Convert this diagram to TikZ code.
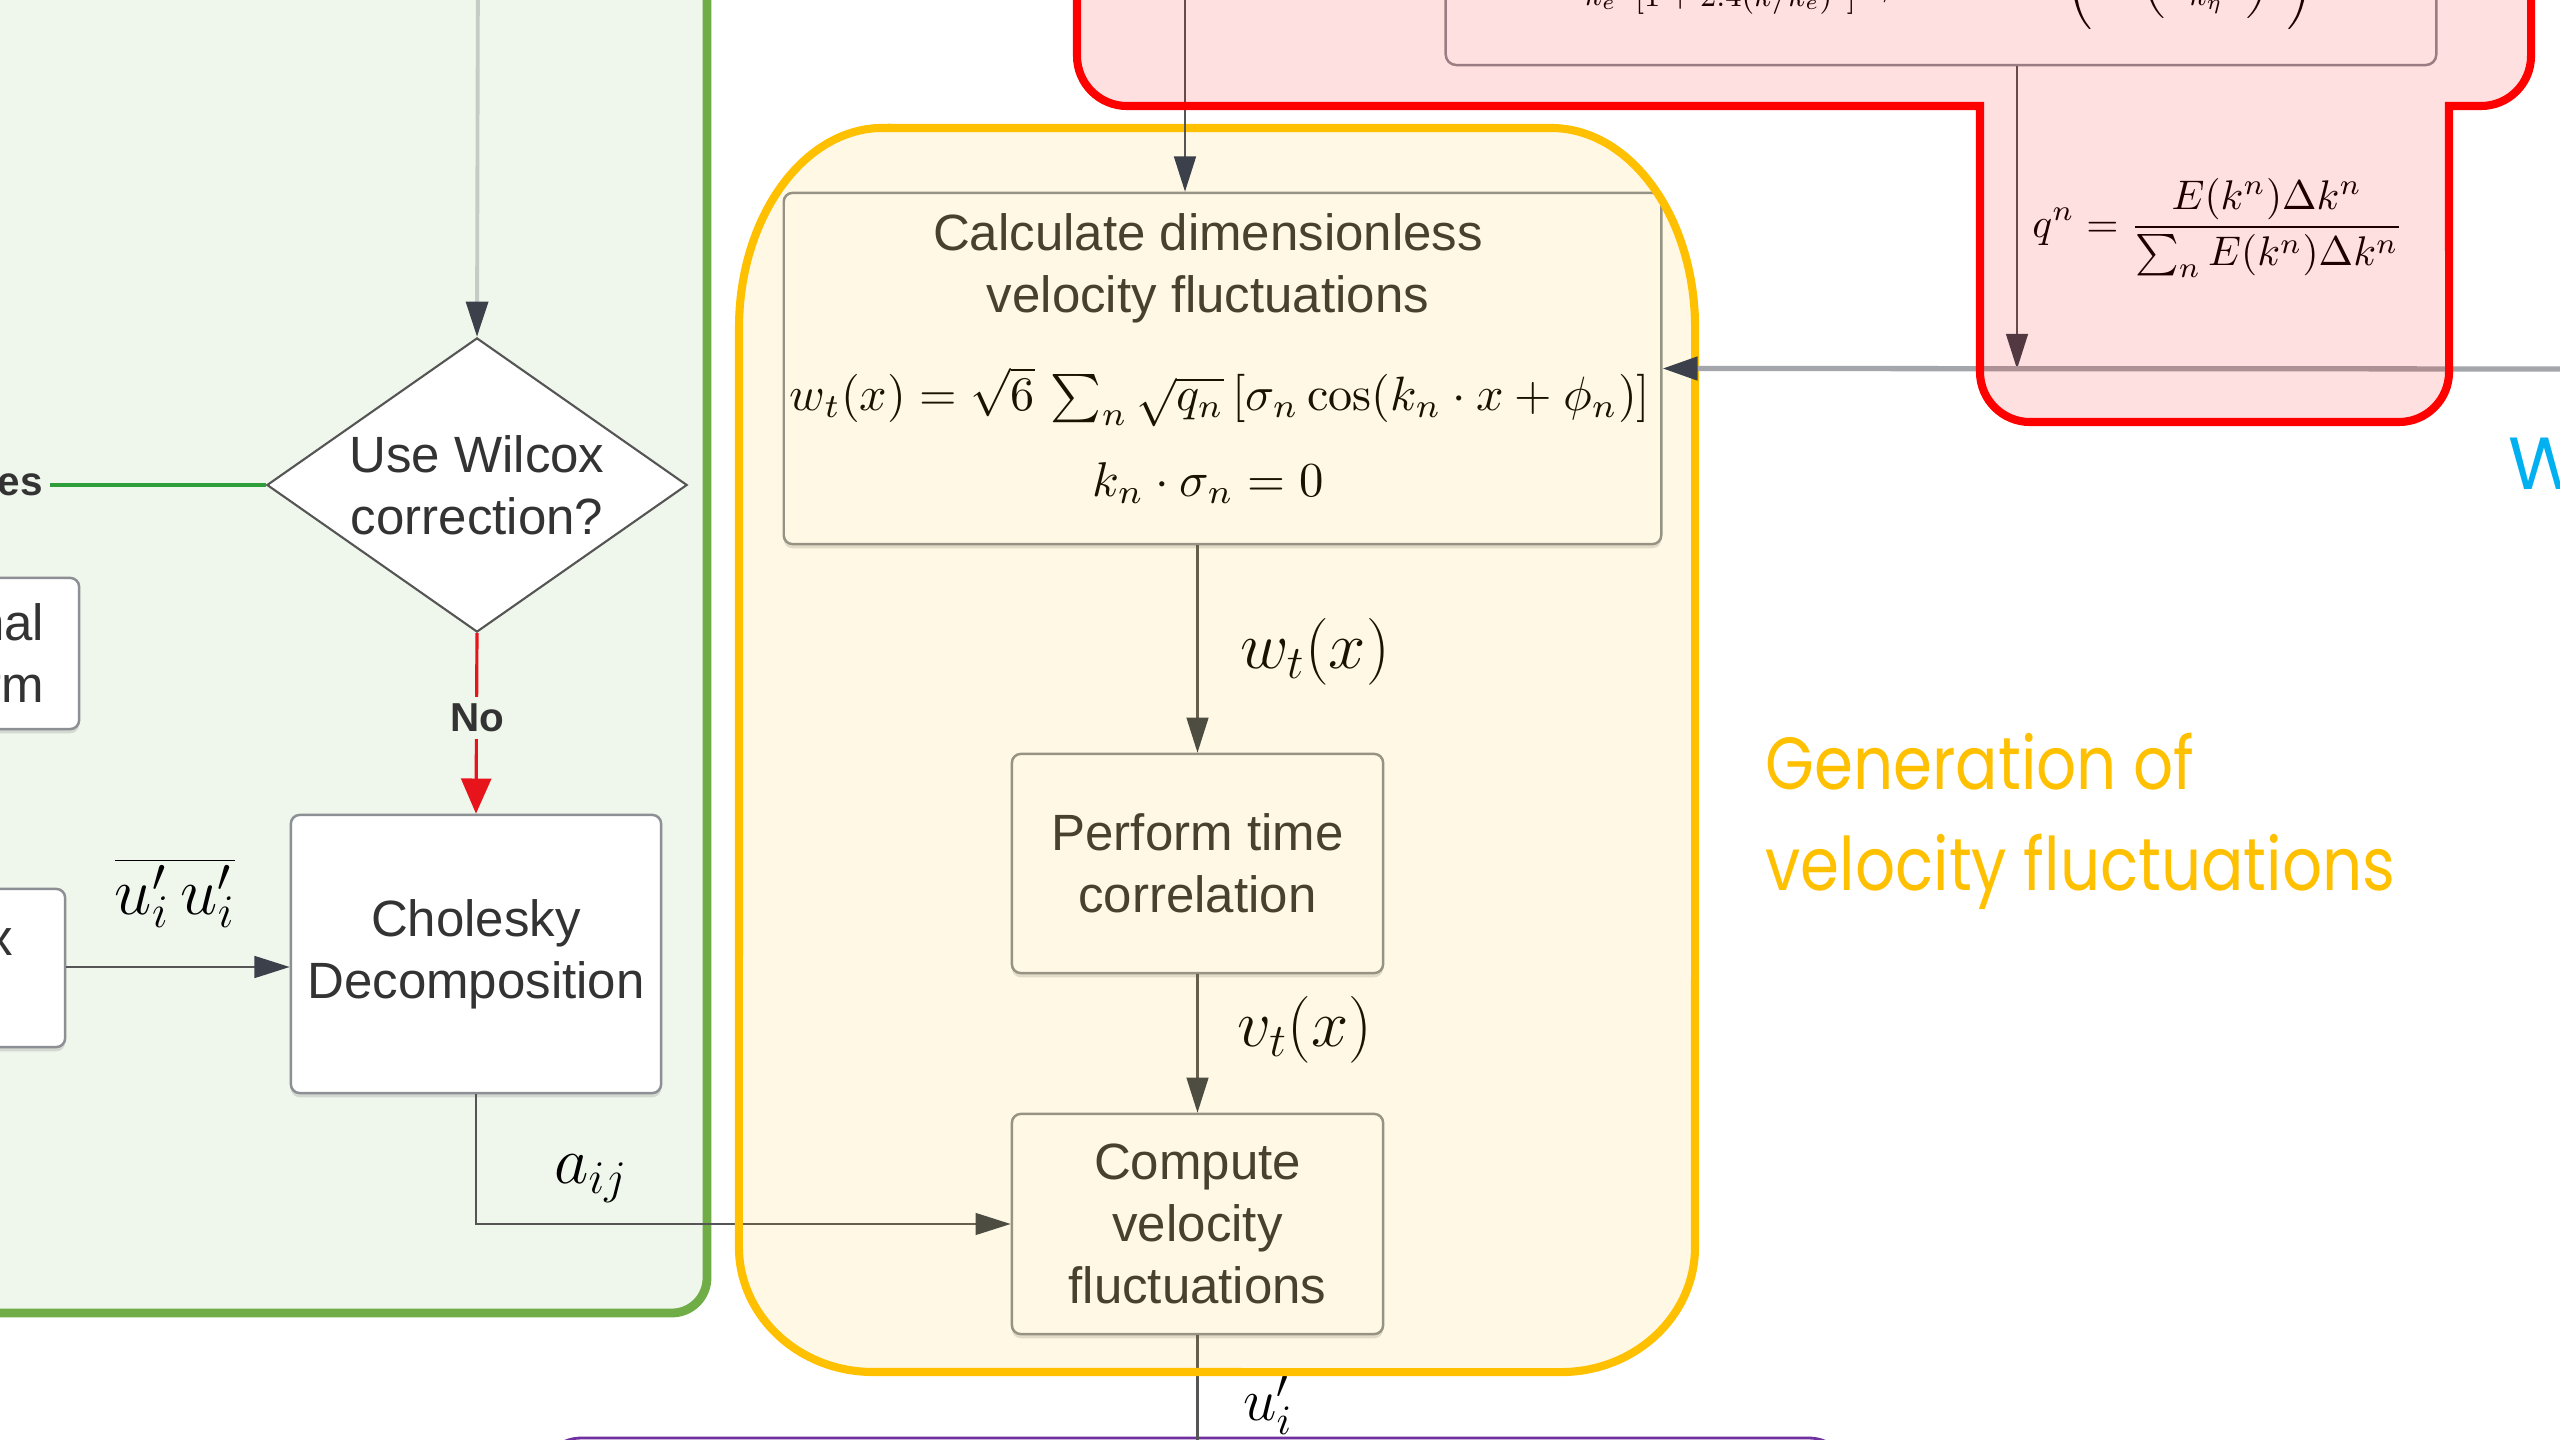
\RequirePackage{fix-cm}
\documentclass[tikz,border=0pt]{standalone}
\usepackage[no-math]{fontspec}
\setmainfont{Liberation Sans}
\newfontfamily\titlefont{Poppins}
\usepackage{graphicx}
\usetikzlibrary{arrows.meta,shapes.geometric,shadows}
\definecolor{greenfill}{HTML}{EFF6EC}
\definecolor{greenbord}{HTML}{70AD47}
\definecolor{yelbord}{HTML}{FFC000}
\definecolor{redbord}{HTML}{FF0000}
\definecolor{txtgray}{HTML}{333333}
\definecolor{boxgray}{HTML}{8C8F94}
\definecolor{linegray}{HTML}{555555}
\definecolor{arrowdark}{HTML}{3B404A}
\definecolor{lightline}{HTML}{C5CCC6}
\definecolor{midline}{HTML}{A3A6AA}
\definecolor{yesgreen}{HTML}{2E9E3A}
\definecolor{nored}{HTML}{E8141B}
\definecolor{purplebord}{HTML}{7030A0}
\definecolor{bluetxt}{HTML}{00B0F0}
\begin{document}
\begin{tikzpicture}[x=0.01cm,y=-0.01cm,
  flowbox/.style={draw=boxgray, line width=0.7pt, rounded corners=2.5pt, fill=white,
    text=txtgray, font=\fontsize{14.5}{17.6}\selectfont, align=center, inner sep=0pt,
    drop shadow={shadow xshift=0pt,shadow yshift=-1.2pt,opacity=0.25}},
  conn/.style={draw=linegray, line width=0.6pt, -{Triangle[length=10pt,width=6.2pt,color=arrowdark]}},
  lightarrow/.style={draw=lightline, line width=1.1pt, -{Triangle[length=10pt,width=6.2pt,color=arrowdark]}},
  gline/.style={draw=midline, line width=1.5pt, -{Triangle[length=10pt,width=6.5pt,color=arrowdark]}},
  noarrow/.style={draw=nored, line width=0.9pt, -{Triangle[length=10pt,width=8.5pt]}},
  decis/.style={text=txtgray, font=\fontsize{11.5}{13}\selectfont\bfseries, fill=greenfill, inner sep=2pt},
  mathlbl/.style={inner sep=0pt, font=\fontsize{19}{23}\selectfont},
  regiontitle/.style={font=\titlefont\fontsize{21}{28.5}\selectfont, inner sep=0pt}]

\useasboundingbox (0,0) rectangle (2560,1440);
\clip (0,0) rectangle (2560,1440);
\fill[white] (0,0) rectangle (2560,1440);

% green region
\draw[draw=greenbord, fill=greenfill, line width=2.5pt, rounded corners=10pt] (-200,-200) rectangle (707,1313);

% purple region (top edge only visible)
\draw[draw=purplebord, line width=0.8pt, rounded corners=12pt] (539,1438) rectangle (1851,1700);

% nodes in green region
\node[diamond, draw=linegray, fill=white, line width=0.6pt, aspect=1.43, inner sep=0pt,
      minimum width=4.2cm, minimum height=2.94cm, text=txtgray,
      font=\fontsize{14.5}{17.6}\selectfont, align=center] (wil) at (477,485) {Use Wilcox\\correction?};
\node[flowbox, minimum width=3.7cm, minimum height=2.78cm] (chol) at (476,954) {Cholesky\\Decomposition};
\node[flowbox, minimum width=3.7cm, minimum height=1.51cm, text width=3cm, align=right] (orth) at (-106,653.5) {Orthogonal\\transform};
\node[flowbox, minimum width=5.04cm, minimum height=1.58cm, text width=4cm, align=right] (stress) at (-187,968) {Stress matrix\\\mbox{}};

% nodes in yellow region
\node[flowbox, minimum width=8.77cm, minimum height=3.51cm] (calc) at (1222.5,368.5) {};
\node[text=txtgray, font=\fontsize{14.5}{17.6}\selectfont, align=center, inner sep=0pt] (calctitle) at (1208,268) {Calculate dimensionless\\velocity fluctuations};
\node[inner sep=0pt] (eqw) at (1220,397) {\resizebox{8.6cm}{!}{$w_t(x) = \sqrt{6}\,\sum_n \sqrt{q_n}\,[\sigma_n\cos(k_n\cdot x+\phi_n)]$}};
\node[inner sep=0pt] (eqk) at (1208,483) {\resizebox{2.31cm}{!}{$k_n\cdot\sigma_n = 0$}};
\node[flowbox, minimum width=3.71cm, minimum height=2.19cm] (perf) at (1197.5,863.5) {Perform time\\correlation};
\node[flowbox, minimum width=3.71cm, minimum height=2.2cm] (comp) at (1197.5,1224) {Compute\\velocity\\fluctuations};

\coordinate (yesend) at (-200,485);
\coordinate (tl) at (478,-60);
\coordinate (endpt) at (1197.5,1478);

% connectors (green / yellow)
\draw[draw=yesgreen, line width=0.9pt] (wil.west) -- (yesend);
\node[decis] (yes) at (8,482) {Yes};
\draw[lightarrow] (tl) -- (wil.north);
\draw[noarrow] (wil.south) -- (chol.north);
\node[decis] (no) at (477,718) {No};
\draw[conn] (stress.east |- 0,967) -- (chol.west |- 0,967);
\draw[conn] (chol.south) |- (comp.west);
\draw[conn] (calc.south -| perf.north) -- (perf.north);
\draw[conn] (perf.south) -- (comp.north);
\draw[conn] (comp.south) -- (endpt);

% math labels
\node[mathlbl] (luu) at (175,893) {$\overline{u'_i\,u'_i}$};
\node[mathlbl] (la) at (591,1179) {$a_{ij}$};
\node[mathlbl] (lw) at (1315,652) {$w_t(x)$};
\node[mathlbl] (lv) at (1305,1030) {$v_t(x)$};
\node[mathlbl, font=\fontsize{17}{20}\selectfont] (lu) at (1268,1405) {$u'_i$};

% yellow region (translucent overlay + border)
\path[fill=yelbord, fill opacity=0.1] (883,128) -- (1551,128)
  arc[start angle=90,end angle=0,x radius=1.44cm,y radius=2cm] -- (1695,1247)
  arc[start angle=0,end angle=-90,x radius=1.34cm,y radius=1.25cm] -- (873,1372)
  arc[start angle=-90,end angle=-180,x radius=1.34cm,y radius=1.25cm] -- (739,328)
  arc[start angle=180,end angle=90,x radius=1.44cm,y radius=2cm] -- cycle;
\draw[draw=yelbord, line width=2.3pt] (883,128) -- (1551,128)
  arc[start angle=90,end angle=0,x radius=1.44cm,y radius=2cm] -- (1695,1247)
  arc[start angle=0,end angle=-90,x radius=1.34cm,y radius=1.25cm] -- (873,1372)
  arc[start angle=-90,end angle=-180,x radius=1.34cm,y radius=1.25cm] -- (739,328)
  arc[start angle=180,end angle=90,x radius=1.44cm,y radius=2cm] -- cycle;

% red region content
\node[draw=boxgray, line width=0.7pt, fill=white, rounded corners=3pt, minimum width=9.9cm, minimum height=2cm, inner sep=0pt] (spec) at (1941,-35) {};
\node[anchor=south east, inner sep=0pt, font=\fontsize{9}{11}\selectfont] (specf) at (2316,30)
  {$\displaystyle E(k)=\alpha\frac{u'^2}{k_e}\,\frac{(k/k_e)^4}{[1+2.4(k/k_e)^2]^{17/6}}\hspace{0.9cm}\exp\left(-2\left(\hspace{0.2cm}\frac{k}{k_\eta}\hspace{0.2cm}\right)^{2}\right)$};
\node[inner sep=0pt] (qf) at (2218,228) {\resizebox{3.71cm}{!}{$\displaystyle q^n=\frac{E(k^n)\Delta k^n}{\sum_n E(k^n)\Delta k^n}$}};
\coordinate (qend) at (2017,369);
\coordinate (rightin) at (2620,369);
\coordinate (topin) at (1185,-60);
\draw[conn] (spec.south -| qend) -- (qend);
\draw[gline] (rightin) -- (calc.east);
\draw[conn] (topin) -- (topin |- calc.north);

% red region overlay + border
\path[fill=redbord, fill opacity=0.12] (1077,-150) -- (1077,56)
  arc[start angle=180,end angle=270,radius=0.5cm] -- (1980,106) -- (1980,372)
  arc[start angle=180,end angle=270,radius=0.5cm] -- (2399,422)
  arc[start angle=270,end angle=360,radius=0.5cm] -- (2449,106) -- (2481,106)
  arc[start angle=270,end angle=360,radius=0.5cm] -- (2531,-150) -- cycle;
\draw[draw=redbord, line width=2.3pt] (1077,-150) -- (1077,56)
  arc[start angle=180,end angle=270,radius=0.5cm] -- (1980,106) -- (1980,372)
  arc[start angle=180,end angle=270,radius=0.5cm] -- (2399,422)
  arc[start angle=270,end angle=360,radius=0.5cm] -- (2449,106) -- (2481,106)
  arc[start angle=270,end angle=360,radius=0.5cm] -- (2531,-150);

% region titles
\node[text=yelbord, anchor=west, inner sep=0pt] (gentitle) at (1765,820)
  {\scalebox{0.85}[1]{\titlefont\fontsize{21}{28.5}\selectfont\begin{tabular}{@{}l@{}}Generation of\\velocity fluctuations\end{tabular}}};
\node[regiontitle, text=bluetxt, anchor=base west] (wtitle) at (2508,490) {W};
\end{tikzpicture}
\end{document}
